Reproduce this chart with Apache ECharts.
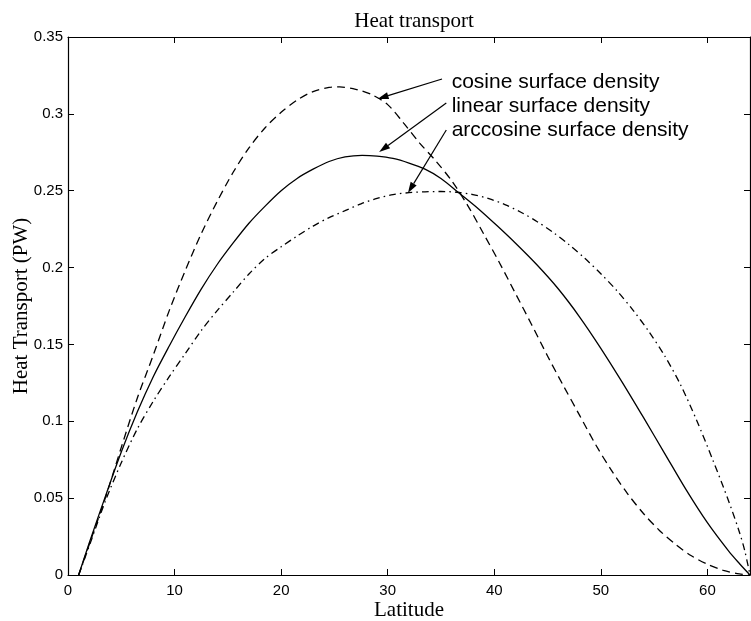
<!DOCTYPE html>
<html>
<head>
<meta charset="utf-8">
<script src="https://cdn.jsdelivr.net/npm/echarts@6/dist/echarts.min.js"></script>
<style>
  html, body { margin: 0; padding: 0; background: #fff; }
  #chart { width: 751px; height: 621px; }
</style>
</head>
<body>
<div id="chart"></div>
<script>
// latitude (deg) -> heat transport (PW)
const cosineLat = [1, 2, 3.5, 5, 6.5, 8, 9.5, 11, 12.5, 14, 15.5, 17, 18.5, 20, 21.5, 23, 24.5, 25.5, 27, 28.5, 30, 31.5, 33, 34.5, 36, 37.5, 39, 40.5, 42, 43.5, 45, 46.5, 48, 49.5, 51, 52.5, 54, 55.5, 57, 58.5, 60, 61.5, 63, 64]
const cosineVal = [0, 0.02, 0.05, 0.083, 0.115, 0.143, 0.172, 0.198, 0.222, 0.243, 0.262, 0.278, 0.291, 0.301, 0.309, 0.3145, 0.3172, 0.3175, 0.316, 0.3125, 0.306, 0.294, 0.281, 0.2695, 0.2565, 0.2405, 0.222, 0.203, 0.183, 0.163, 0.1425, 0.123, 0.104, 0.085, 0.068, 0.053, 0.04, 0.029, 0.02, 0.0125, 0.007, 0.003, 0.0007, 0]

const linearLat = [1, 2, 3.5, 5, 6.5, 8, 9.5, 11, 12.5, 14, 15.5, 17, 18.5, 20, 21.5, 23, 24.5, 26, 27.6, 29, 30.5, 32, 33.5, 35, 36.7, 38.5, 40.3, 42, 44, 46, 48, 50, 52, 54, 56, 58, 60, 62, 63, 64]
const linearVal = [0, 0.021, 0.051, 0.08, 0.106, 0.129, 0.149, 0.168, 0.186, 0.202, 0.216, 0.229, 0.24, 0.25, 0.258, 0.264, 0.269, 0.272, 0.273, 0.2725, 0.271, 0.268, 0.264, 0.258, 0.2485, 0.2383, 0.227, 0.2158, 0.2018, 0.1862, 0.168, 0.1475, 0.1255, 0.1025, 0.079, 0.0555, 0.034, 0.0155, 0.0075, 0]

const arccosLat = [1, 2, 3.5, 5, 6.5, 8, 9.5, 11, 12.5, 14, 15.5, 17, 18.5, 20, 21.5, 23, 24.5, 26, 27.5, 29, 30.5, 32, 33.5, 35, 36.5, 38, 39.5, 41, 42.5, 44, 45.5, 47, 48.5, 50, 51.5, 53, 54.5, 56, 57.5, 59, 60.5, 62, 63, 63.5, 64]
const arccosVal = [0, 0.019, 0.048, 0.073, 0.095, 0.113, 0.129, 0.144, 0.159, 0.172, 0.184, 0.196, 0.206, 0.2135, 0.2205, 0.227, 0.2325, 0.237, 0.2415, 0.245, 0.2475, 0.2487, 0.2493, 0.2495, 0.249, 0.2475, 0.2448, 0.241, 0.236, 0.23, 0.223, 0.215, 0.206, 0.196, 0.185, 0.1725, 0.1585, 0.1425, 0.1235, 0.1005, 0.075, 0.048, 0.028, 0.016, 0]

// annotation labels with their arrows (data coords)
const noteText = ['cosine surface density', 'linear surface density', 'arccosine surface density']
const noteAt = [[36.0, 0.3208], [36.0, 0.3051], [36.0, 0.2895]]
const arrowFrom = [[35.1, 0.3227], [35.5, 0.3071], [35.5, 0.2895]]
const arrowTo = [[29.05, 0.3097], [29.2, 0.2752], [31.9, 0.2485]]

const zip = (xs, ys) => xs.map((x, i) => [x, ys[i]])

const serif = 'Liberation Serif'
const sans = 'Liberation Sans'
const black = '#000'

const axisLine = { onZero: false, lineStyle: { color: black, width: 1.2 } }
const axisTick = { inside: true, length: 6, lineStyle: { color: black, width: 1 } }

const myChart = echarts.init(document.getElementById('chart'))

const option = {
  backgroundColor: '#fff',
  animation: false,
  title: {
    text: 'Heat transport',
    left: 409,
    top: 6,
    textAlign: 'center',
    textStyle: { fontFamily: serif, fontSize: 21, fontWeight: 'normal', color: black }
  },
  grid: { left: 68, right: 1, top: 37, bottom: 46, containLabel: false, outerBoundsMode: 'none' },
  xAxis: [
    {
      type: 'value', min: 0, max: 64, interval: 10, position: 'bottom',
      name: 'Latitude', nameLocation: 'middle', nameGap: 25, nameMoveOverlap: false,
      nameTextStyle: { fontFamily: serif, fontSize: 21, color: black },
      axisLine, axisTick,
      axisLabel: {
        color: black, fontFamily: sans, fontSize: 15, margin: 8,
        formatter: v => (v % 10 === 0 ? String(v) : '')
      },
      splitLine: { show: false }
    },
    {
      type: 'value', min: 0, max: 64, interval: 10, position: 'top',
      axisLine, axisTick, axisLabel: { show: false }, splitLine: { show: false }
    }
  ],
  yAxis: [
    {
      type: 'value', min: 0, max: 0.35, interval: 0.05, position: 'left',
      name: 'Heat Transport (PW)', nameLocation: 'middle', nameGap: 36, nameMoveOverlap: false,
      nameTextStyle: { fontFamily: serif, fontSize: 21, color: black },
      axisLine, axisTick,
      axisLabel: { color: black, fontFamily: sans, fontSize: 15, margin: 5 },
      splitLine: { show: false }
    },
    {
      type: 'value', min: 0, max: 0.35, interval: 0.05, position: 'right',
      axisLine, axisTick, axisLabel: { show: false }, splitLine: { show: false }
    }
  ],
  series: [
    {
      name: 'cosine surface density',
      type: 'line',
      data: zip(cosineLat, cosineVal),
      smooth: 0.3,
      showSymbol: false,
      lineStyle: { color: black, width: 1.3, type: [8, 5] }
    },
    {
      name: 'linear surface density',
      type: 'line',
      data: zip(linearLat, linearVal),
      smooth: 0.3,
      showSymbol: false,
      lineStyle: { color: black, width: 1.3, type: 'solid' }
    },
    {
      name: 'arccosine surface density',
      type: 'line',
      data: zip(arccosLat, arccosVal),
      smooth: 0.3,
      showSymbol: false,
      lineStyle: { color: black, width: 1.3, type: [7, 4, 1.5, 4] }
    }
  ]
}

myChart.setOption(option)

// annotation text and arrows, placed from data coords
const toPx = c => myChart.convertToPixel({ xAxisIndex: 0, yAxisIndex: 0 }, c)
const graphic = []
noteText.forEach((t, i) => {
  const p = toPx(noteAt[i])
  graphic.push({
    type: 'text', x: p[0], y: p[1], silent: true,
    style: { text: t, fontFamily: sans, fontSize: 21, fill: black, verticalAlign: 'middle' }
  })
  const a = toPx(arrowFrom[i])
  const b = toPx(arrowTo[i])
  const dx = b[0] - a[0], dy = b[1] - a[1]
  const len = Math.hypot(dx, dy)
  const ux = dx / len, uy = dy / len
  const headLen = 11, headW = 3.5
  const bx = b[0] - ux * headLen, by = b[1] - uy * headLen
  graphic.push({
    type: 'line', silent: true,
    shape: { x1: a[0], y1: a[1], x2: bx, y2: by },
    style: { stroke: black, lineWidth: 1.2 }
  })
  graphic.push({
    type: 'polygon', silent: true,
    shape: { points: [b, [bx - uy * headW, by + ux * headW], [bx + uy * headW, by - ux * headW]] },
    style: { fill: black }
  })
})
myChart.setOption({ graphic })
</script>
</body>
</html>
